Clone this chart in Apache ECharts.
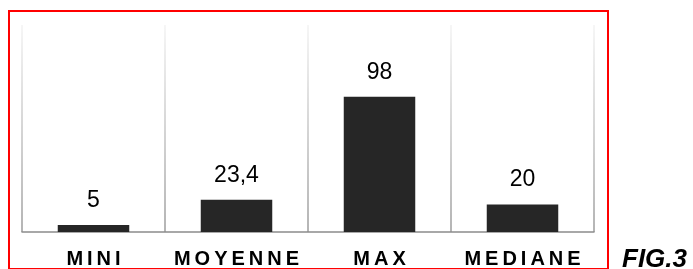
<!DOCTYPE html>
<html>
<head>
<meta charset="utf-8">
<script src="https://cdn.jsdelivr.net/npm/echarts@6/dist/echarts.min.js"></script>
<style>
  html, body { margin: 0; padding: 0; background: #fff; }
  #chart { width: 693px; height: 269px; }
</style>
</head>
<body>
<div id="chart"></div>
<script>
// chart data
const categories = ["MINI", "MOYENNE", "MAX", "MEDIANE"];
const values = [5, 23.4, 98, 20];
const valueLabels = ["5", "23,4", "98", "20"];

const chart = echarts.init(document.getElementById("chart"), null, { renderer: "canvas" });

// spread letters like the original (wide tracking)
const spaced = (s) => s.split("").join("\u2009");

chart.setOption({
  animation: false,
  backgroundColor: "#fff",
  grid: {
    left: 22,
    right: 99,
    top: 25,
    bottom: 37,
    outerBoundsMode: "none",
  },
  xAxis: {
    type: "category",
    data: categories,
    axisTick: { show: false },
    axisLine: {
      lineStyle: { color: "#8c8c8c", width: 1.5 },
    },
    axisLabel: {
      interval: 0,
      hideOverlap: false,
      margin: 17,
      color: "#000",
      fontFamily: "'Liberation Sans', Arial, sans-serif",
      fontWeight: "bold",
      fontSize: 20,
      formatter: (v) => spaced(v),
    },
    splitLine: {
      show: true,
      interval: 0,
      lineStyle: {
        width: 1.5,
        color: new echarts.graphic.LinearGradient(0, 0, 0, 1, [
          { offset: 0, color: "#f4f4f4" },
          { offset: 1, color: "#9a9a9a" },
        ]),
      },
    },
  },
  yAxis: {
    type: "value",
    min: 0,
    max: 150,
    show: false,
    splitLine: { show: false },
  },
  series: [
    {
      type: "bar",
      data: values,
      barWidth: "50%",
      itemStyle: { color: "#262626" },
      label: {
        show: true,
        position: "top",
        distance: 13,
        color: "#000",
        fontFamily: "'Liberation Sans', Arial, sans-serif",
        fontSize: 23,
        formatter: (p) => valueLabels[p.dataIndex],
      },
    },
  ],
  graphic: [
    {
      type: "rect",
      shape: { x: 9, y: 11, width: 599, height: 258 },
      style: { fill: null, stroke: "#ff0000", lineWidth: 2 },
      silent: true,
    },
    {
      type: "text",
      left: 622,
      top: 247,
      style: {
        text: "FIG.3",
        fill: "#000",
        font: "italic bold 26px 'Liberation Sans', Arial, sans-serif",
      },
    },
  ],
});
</script>
</body>
</html>
